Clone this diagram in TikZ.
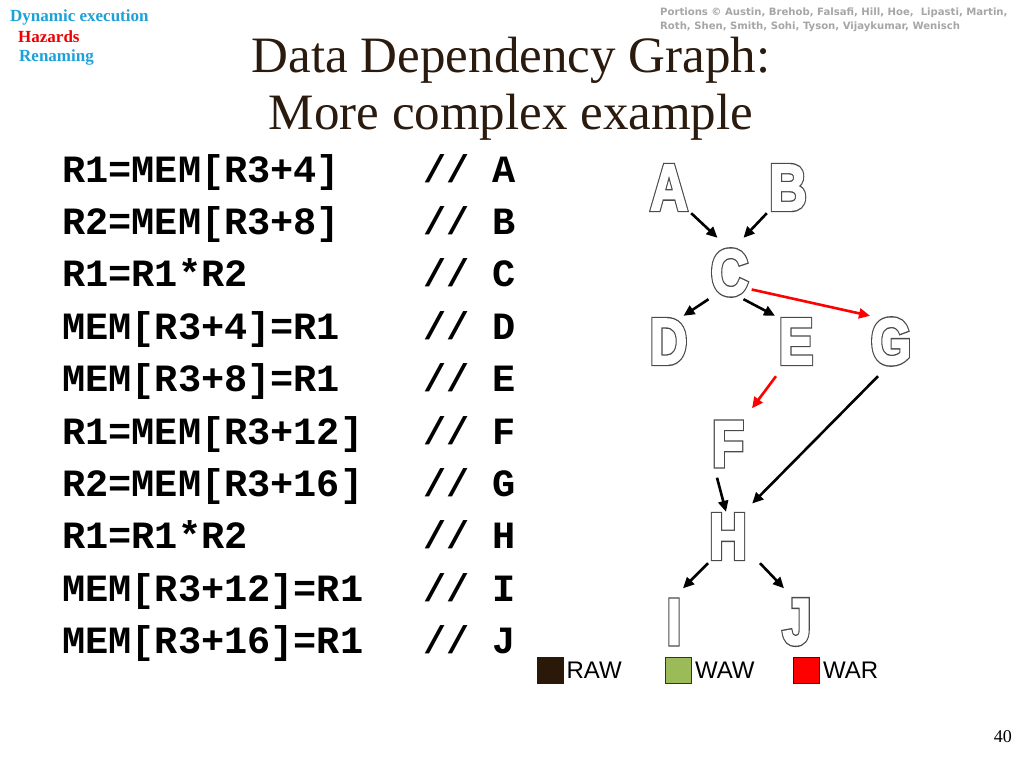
\documentclass[tikz,border=0pt]{standalone}
\usepackage{fontspec}
\setmainfont{Liberation Serif}
\newfontfamily\codefont{Liberation Mono}
\newfontfamily\sansf{Liberation Sans}
\newfontfamily\credf{DejaVu Sans}
\newfontfamily\glo[FakeBold=7.2]{Liberation Sans Bold}
\newfontfamily\glw[FakeBold=3.0]{Liberation Sans Bold}
\usetikzlibrary{arrows.meta,calc}
\definecolor{titlec}{HTML}{2B1A0E}
\definecolor{hdrblue}{HTML}{1DA1D9}
\definecolor{hdrred}{HTML}{F00000}
\definecolor{credc}{HTML}{A6A6A6}
\definecolor{rawc}{HTML}{2A1808}
\definecolor{wawc}{HTML}{9BBB59}
\definecolor{warc}{HTML}{FF0000}
\definecolor{outl}{HTML}{4A4A4A}
\tikzset{
  txt/.style={inner sep=0pt, anchor=base west},
  hdr/.style={txt, font=\bfseries\fontsize{17}{17}\selectfont},
  cred/.style={txt, text=credc, font=\credf\bfseries\fontsize{10.1}{11}\selectfont},
  code/.style={txt, font=\codefont\bfseries\fontsize{38.6}{40}\selectfont},
  glc/.style={inner sep=0pt, minimum width=42pt, minimum height=51pt, line join=miter, miter limit=2},
  glout/.style={glc, text=outl, font=\glo\fontsize{65}{65}\selectfont},
  glin/.style={glc, text=white, font=\glw\fontsize{65}{65}\selectfont},
  dep/.style={line width=2.6pt, -{Triangle[length=11pt,width=10pt]}},
  raw/.style={dep, draw=black},
  war/.style={dep, draw=warc},
  legsq/.style={draw, line width=0.8pt, minimum size=26pt, inner sep=0pt},
  legtx/.style={inner sep=0pt, anchor=west, font=\sansf\fontsize{24}{24}\selectfont},
}
% outlined heavy letter: #1 name, #2 centre, #3 letter
\newcommand\OutLetter[3]{%
  \node[glout] (#1o) at (#2) {\scalebox{0.8}[1]{#3}};
  \node[glin] (#1) at (#2) {\scalebox{0.8}[1]{#3}};
}
\begin{document}
\begin{tikzpicture}[x=1pt, y=-1pt]
\useasboundingbox[fill=white] (0,0) rectangle (1024,768);
% header
\node[hdr, text=hdrblue] (h1) at (10,22) {Dynamic execution};
\node[hdr, text=hdrred] (h2) at (18,42) {Hazards};
\node[hdr, text=hdrblue] (h3) at (19,62) {Renaming};
% credits
\node[cred] (cr1) at (660,15.5) {Portions \textcopyright{} Austin, Brehob, Falsafi, Hill, Hoe,\ \ Lipasti, Martin,};
\node[cred] (cr2) at (660,30) {Roth, Shen, Smith, Sohi, Tyson, Vijaykumar, Wenisch};
% title
\node[inner sep=0pt, anchor=base, text=titlec, font=\fontsize{51}{51}\selectfont] (t1) at (511,72) {Data Dependency Graph:};
\node[inner sep=0pt, anchor=base, text=titlec, font=\fontsize{51}{51}\selectfont] (t2) at (511,129) {More complex example};
% code
\foreach \i/\c/\l in {0/{R1=MEM[R3+4]}/A, 1/{R2=MEM[R3+8]}/B, 2/{R1=R1*R2}/C, 3/{MEM[R3+4]=R1}/D, 4/{MEM[R3+8]=R1}/E, 5/{R1=MEM[R3+12]}/F, 6/{R2=MEM[R3+16]}/G, 7/{R1=R1*R2}/H, 8/{MEM[R3+12]=R1}/I, 9/{MEM[R3+16]=R1}/J}{
  \node[code] (c\l) at (62,182+52.4*\i) {\c};
  \node[code] (k\l) at (423,182+52.4*\i) {// \l};
}
% graph letters
\OutLetter{A}{669,187.5}{A}
\OutLetter{B}{788,187.5}{B}
\OutLetter{C}{729.5,272.5}{C}
\OutLetter{D}{668.5,341.5}{D}
\OutLetter{E}{796,341.5}{E}
\OutLetter{G}{891,341.5}{G}
\OutLetter{F}{728,444}{F}
\OutLetter{H}{728,536.5}{H}
\OutLetter{I}{674,622}{I}
\OutLetter{J}{797,622}{J}
% arrows
\draw[raw] ($(A.south east)+(1,0)$) -- ($(C.north)+(-12,-9)$);
\draw[raw] (B.south west) -- ($(C.north)+(14,-9)$);
\draw[raw] ($(C.south)+(-21,1)$) -- ($(D.north)+(15,0)$);
\draw[raw] ($(C.south)+(14,1)$) -- ($(E.north)+(-21,0)$);
\draw[war] ($(C.east)+(1,17)$) -- ($(G.north)+(-21,0)$);
\draw[war] ($(E.south)+(-20,9)$) -- ($(F.north)+(24,-10)$);
\draw[raw] ($(G.south)+(-13,9)$) -- ($(H.east)+(3,-33)$);
\draw[raw] ($(F.south)+(-11,8)$) -- ($(H.north)+(-2,1)$);
\draw[raw] ($(H.south)+(-20,1)$) -- ($(I.north)+(9,-8)$);
\draw[raw] ($(H.south)+(32,1)$) -- ($(J.north)+(-13,-8)$);
% legend
\node[legsq, fill=rawc, draw=rawc] (sraw) at (550,670) {};
\node[legtx] (lraw) at ([xshift=3pt]sraw.east) {RAW};
\node[legsq, fill=wawc, draw=black!70!wawc] (swaw) at (678.5,670) {};
\node[legtx] (lwaw) at ([xshift=3pt]swaw.east) {WAW};
\node[legsq, fill=warc, draw=black!60!warc] (swar) at (806.5,670) {};
\node[legtx] (lwar) at ([xshift=3pt]swar.east) {WAR};
% page number
\node[inner sep=0pt, anchor=base east, font=\fontsize{18}{18}\selectfont] (pg) at (1012,742) {40};
\end{tikzpicture}
\end{document}
